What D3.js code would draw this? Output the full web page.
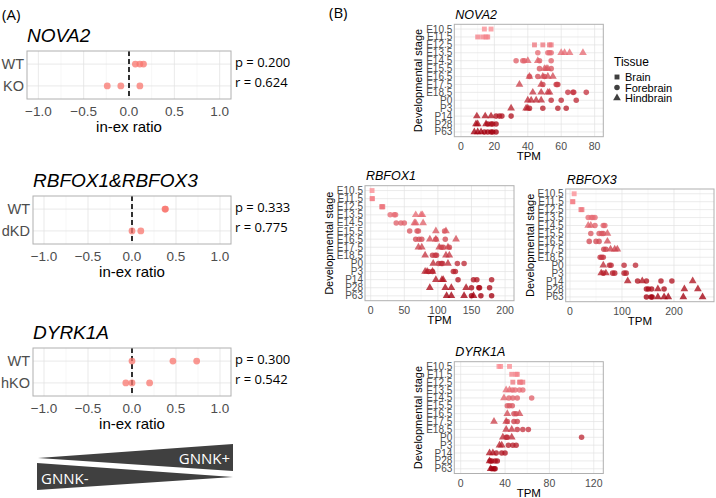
<!DOCTYPE html>
<html>
<head>
<meta charset="utf-8">
<script src="https://cdn.jsdelivr.net/npm/d3@7"></script>
<style>
body { margin: 0; background: #fff; }
text { font-family: "Liberation Sans", Arial, sans-serif; }
</style>
</head>
<body>
<div id="chart"></div>
<script>
// ---- panel A data ----
var ratioTicks = [-1, -0.5, 0, 0.5, 1];
var ratioGenes = ["NOVA2", "RBFOX1&RBFOX3", "DYRK1A"];
var ratioGroups = [["WT", "KO"], ["WT", "dKD"], ["WT", "hKO"]];
var ratioWT = [[0.07, 0.12, 0.16], [0.375, 0.38], [0.0, 0.465, 0.735]];
var ratioMut = [[-0.24, -0.09, 0.12], [0.0, 0.10], [-0.07, 0.0, 0.20]];
var ratioP = ["p = 0.200", "p = 0.333", "p = 0.300"];
var ratioR = ["r = 0.624", "r = 0.775", "r = 0.542"];

// ---- panel B data ----
var stages = ["E10.5", "E11.5", "E12.5", "E13.5", "E14.5", "E15.5", "E16.5", "E17.5", "E18.5",
              "P0", "P3", "P14", "P28", "P63"];
var tissues = ["Brain", "Forebrain", "Hindbrain"];

// [stage, tissue (B/F/H), TPM]
var nova2Pts = [
  ["E10.5","B",14],["E10.5","B",18],
  ["E11.5","B",10],["E11.5","B",13],["E11.5","B",15],["E11.5","B",16],
  ["E12.5","B",44],["E12.5","B",49],["E12.5","B",53],["E12.5","B",54],
  ["E13.5","F",46],["E13.5","F",52],["E13.5","F",53],["E13.5","F",54],["E13.5","H",60],["E13.5","H",62],["E13.5","H",65],["E13.5","H",73],
  ["E14.5","F",33],["E14.5","F",37],["E14.5","F",38],["E14.5","H",40],["E14.5","H",46],["E14.5","F",47],["E14.5","F",54],
  ["E15.5","F",47],["E15.5","H",50],["E15.5","H",51],["E15.5","H",52],["E15.5","F",54],
  ["E16.5","F",41],["E16.5","H",41],["E16.5","F",46],["E16.5","H",49],["E16.5","F",50],["E16.5","H",52],["E16.5","H",55],
  ["E17.5","H",35],["E17.5","H",48],["E17.5","F",49],["E17.5","F",57],["E17.5","F",58],["E17.5","F",57.5],
  ["E18.5","H",43],["E18.5","H",48],["E18.5","H",52],["E18.5","H",53],["E18.5","F",64],["E18.5","F",67],["E18.5","F",67.5],["E18.5","F",75],
  ["P0","H",40],["P0","H",42],["P0","H",45],["P0","H",48],["P0","F",54],["P0","F",60],["P0","F",69],
  ["P3","H",30],["P3","H",39],["P3","H",40],["P3","F",41],["P3","F",49],["P3","F",58],["P3","F",63],
  ["P14","H",9.5],["P14","H",14.5],["P14","H",18],["P14","F",21],["P14","F",23],["P14","F",24.5],["P14","F",30],
  ["P28","H",9],["P28","H",10],["P28","H",15],["P28","F",16],["P28","F",18],["P28","F",19],["P28","F",21],
  ["P63","H",8],["P63","H",10],["P63","H",12],["P63","F",14],["P63","F",16],["P63","F",18],["P63","F",19],["P63","F",21]
];
var rbfox1Pts = [
  ["E10.5","B",2],
  ["E11.5","B",2],["E11.5","B",2.5],
  ["E12.5","B",16.5],["E12.5","B",18],["E12.5","B",17],
  ["E13.5","F",29],["E13.5","F",35],["E13.5","F",37],["E13.5","H",67],["E13.5","H",75],["E13.5","H",77],
  ["E14.5","F",38],["E14.5","F",45],["E14.5","F",50],["E14.5","H",65],["E14.5","H",67],["E14.5","H",78],
  ["E15.5","F",58],["E15.5","F",69],["E15.5","F",71],["E15.5","H",97],["E15.5","F",110],["E15.5","H",112],
  ["E16.5","F",67],["E16.5","F",72],["E16.5","F",76],["E16.5","H",88],["E16.5","H",97],["E16.5","F",97],["E16.5","F",111],["E16.5","H",127],
  ["E17.5","H",71],["E17.5","H",76],["E17.5","H",102],["E17.5","F",105],["E17.5","F",108],["E17.5","H",115],["E17.5","F",117],
  ["E18.5","H",81],["E18.5","F",92],["E18.5","F",96],["E18.5","F",98],["E18.5","H",112],["E18.5","H",117],
  ["P0","H",93],["P0","F",101],["P0","F",105],["P0","F",107],["P0","H",115],["P0","F",129],["P0","F",139],
  ["P3","H",81],["P3","H",84],["P3","F",86],["P3","H",92],["P3","F",92],["P3","F",123],["P3","F",126],
  ["P14","H",97],["P14","H",106],["P14","H",108],["P14","F",130],["P14","F",153],["P14","F",158],["P14","F",180],
  ["P28","H",88],["P28","H",111],["P28","H",120],["P28","H",142],["P28","F",150],["P28","F",162],["P28","F",161],["P28","F",177],
  ["P63","H",113],["P63","H",120],["P63","H",139],["P63","H",153],["P63","F",150],["P63","F",164],["P63","F",180]
];
var rbfox3Pts = [
  ["E10.5","B",8],
  ["E11.5","B",5],["E11.5","B",5.5],
  ["E12.5","B",21],["E12.5","B",23],
  ["E13.5","F",35],["E13.5","F",41],["E13.5","F",44],["E13.5","F",48],
  ["E14.5","H",35],["E14.5","H",40],["E14.5","F",48],["E14.5","F",64],["E14.5","F",67],
  ["E15.5","F",40],["E15.5","F",56],["E15.5","F",61],["E15.5","F",64],["E15.5","H",72],
  ["E16.5","F",37],["E16.5","F",50],["E16.5","F",56],["E16.5","H",72],
  ["E17.5","F",65],["E17.5","F",69],["E17.5","H",78],["E17.5","H",86],["E17.5","H",91],
  ["E18.5","F",58],["E18.5","F",61],["E18.5","F",64],
  ["P0","H",64],["P0","F",76],["P0","F",79],["P0","F",104],["P0","F",126],
  ["P3","H",60],["P3","F",64],["P3","H",69],["P3","F",82],["P3","F",86],["P3","F",104],["P3","F",108],
  ["P14","H",111],["P14","F",130],["P14","H",139],["P14","F",147],["P14","F",175],["P14","F",196],["P14","H",236],
  ["P28","F",147],["P28","F",151],["P28","F",157],["P28","H",169],["P28","F",181],["P28","H",220],["P28","H",246],
  ["P63","F",147],["P63","F",156],["P63","F",158],["P63","H",169],["P63","H",181],["P63","H",189],["P63","H",218],["P63","H",255]
];
var dyrk1aPts = [
  ["E10.5","B",34.5],["E10.5","B",36],["E10.5","B",44],
  ["E11.5","B",46],["E11.5","B",50],["E11.5","B",51],
  ["E12.5","B",47],["E12.5","B",53],["E12.5","B",54],["E12.5","B",56],
  ["E13.5","H",41],["E13.5","H",44],["E13.5","F",46.5],["E13.5","F",49],["E13.5","F",53],["E13.5","F",56],
  ["E14.5","H",39],["E14.5","F",43.5],["E14.5","F",47],["E14.5","F",51],["E14.5","F",64],
  ["E15.5","F",42],["E15.5","F",44],["E15.5","F",46.5],
  ["E16.5","H",42],["E16.5","F",48],["E16.5","F",50],["E16.5","H",53],
  ["E17.5","H",30],["E17.5","H",41],["E17.5","F",42],["E17.5","F",48],["E17.5","F",51],
  ["E18.5","H",41],["E18.5","H",46],["E18.5","F",51],["E18.5","F",56],["E18.5","F",61],
  ["P0","H",38],["P0","F",41],["P0","F",42],["P0","H",46],["P0","F",109],
  ["P3","H",35],["P3","H",37],["P3","F",43],["P3","F",47],["P3","F",50],
  ["P14","H",26],["P14","H",29],["P14","F",32],["P14","F",37],["P14","F",40],
  ["P28","H",26],["P28","F",26.5],["P28","F",28],["P28","F",31],["P28","F",33],
  ["P63","H",27],["P63","F",28],["P63","F",30],["P63","F",31]
];
var nova2Ticks = [0, 20, 40, 60, 80];
var rbfox1Ticks = [0, 50, 100, 150, 200];
var rbfox3Ticks = [0, 100, 200];
var dyrk1aTicks = [0, 40, 80, 120];

var W = 716, H = 498;
var svg = d3.select("#chart").append("svg")
    .attr("width", W)
    .attr("height", H);

var gridMajor = "#e3e3e3", gridMinor = "#f1f1f1", frameCol = "#b0b0b0", axisText = "#4d4d4d";

// panel labels
svg.append("text").attr("x", 2).attr("y", 20).attr("font-size", 15)
    .style("font-family", "'Open Sans', sans-serif").text("(A)");
svg.append("text").attr("x", 329).attr("y", 18).attr("font-size", 15)
    .style("font-family", "'Open Sans', sans-serif").text("(B)");

// ---------- panel A ----------
var aTops = [51, 196, 348];
var aLefts = [27, 33, 33];
var aRight = 231;
var aH = 48;
var aMinor = d3.pairs(ratioTicks).map(p => (p[0] + p[1]) / 2);

ratioGenes.forEach((gene, i) => {
    var top = aTops[i];
    var g = svg.append("g");
    var ax = d3.scaleLinear().domain([-1.125, 1.125]).range([aLefts[i], aRight]);
    var ay = d3.scalePoint().domain(ratioGroups[i]).range([top, top + aH]).padding(0.6);

    g.selectAll(".mn").data(aMinor).enter().append("line")
        .attr("x1", d => ax(d)).attr("x2", d => ax(d))
        .attr("y1", top).attr("y2", top + aH)
        .attr("stroke", gridMinor).attr("stroke-width", 0.6);
    g.selectAll(".mj").data(ratioTicks).enter().append("line")
        .attr("x1", d => ax(d)).attr("x2", d => ax(d))
        .attr("y1", top).attr("y2", top + aH)
        .attr("stroke", gridMajor).attr("stroke-width", 0.8);
    g.selectAll(".hz").data(ratioGroups[i]).enter().append("line")
        .attr("x1", ax.range()[0]).attr("x2", ax.range()[1])
        .attr("y1", d => ay(d)).attr("y2", d => ay(d))
        .attr("stroke", gridMajor).attr("stroke-width", 0.8);

    // dashed zero line
    g.append("line")
        .attr("x1", ax(0)).attr("x2", ax(0))
        .attr("y1", top).attr("y2", top + aH)
        .attr("stroke", "#000").attr("stroke-width", 1.6)
        .attr("stroke-dasharray", "5,3");

    var pts = ratioWT[i].map(v => ({grp: ratioGroups[i][0], v: v}))
        .concat(ratioMut[i].map(v => ({grp: ratioGroups[i][1], v: v})));
    g.selectAll("circle").data(pts).enter().append("circle")
        .attr("cx", d => ax(d.v))
        .attr("cy", d => ay(d.grp))
        .attr("r", 3.4)
        .attr("fill", "#f8766d")
        .attr("opacity", 0.75);

    g.append("rect")
        .attr("x", ax.range()[0]).attr("y", top)
        .attr("width", ax.range()[1] - ax.range()[0]).attr("height", aH)
        .attr("fill", "none").attr("stroke", frameCol).attr("stroke-width", 1);

    // axis text
    g.selectAll(".tk").data(ratioTicks).enter().append("text")
        .attr("x", d => ax(d)).attr("y", top + aH + 16.5)
        .attr("text-anchor", "middle").attr("font-size", 13.5).attr("fill", axisText)
        .text(d => d3.format(".1f")(d));
    g.append("text")
        .attr("x", ax(0)).attr("y", top + aH + 32.5)
        .attr("text-anchor", "middle").attr("font-size", 15).attr("fill", "#000")
        .text("in-ex ratio");
    g.selectAll(".gl").data(ratioGroups[i]).enter().append("text")
        .attr("x", aLefts[i] - 3).attr("y", d => ay(d) + 5)
        .attr("text-anchor", "end").attr("font-size", 14.5).attr("fill", axisText)
        .text(d => d);

    g.append("text")
        .attr("x", aLefts[i]).attr("y", top - 9)
        .attr("font-size", 19).attr("font-style", "italic")
        .text(gene);

    g.append("text").attr("x", 235).attr("y", top + 16)
        .attr("font-size", 13).style("font-family", "'Open Sans', sans-serif").text(ratioP[i]);
    g.append("text").attr("x", 235).attr("y", top + 36)
        .attr("font-size", 13).style("font-family", "'Open Sans', sans-serif").text(ratioR[i]);
});

// GNNK wedges
var wedge = d3.line();
svg.append("path")
    .attr("d", wedge([[38, 458], [233, 444], [233, 471]]) + "Z")
    .attr("fill", "#404040");
svg.append("path")
    .attr("d", wedge([[37, 463], [37, 490], [233, 477]]) + "Z")
    .attr("fill", "#404040");
svg.append("text").attr("x", 230).attr("y", 464).attr("text-anchor", "end")
    .attr("font-size", 15).attr("fill", "#fff")
    .style("font-family", "'Open Sans', sans-serif").text("GNNK+");
svg.append("text").attr("x", 41).attr("y", 484)
    .attr("font-size", 15).attr("fill", "#fff")
    .style("font-family", "'Open Sans', sans-serif").text("GNNK-");

// ---------- panel B ----------
var stageColor = d3.scaleLinear()
    .domain([0, stages.length - 1])
    .range(["#fb8d93", "#a3000f"])
    .interpolate(d3.interpolateRgb);
var shapeOf = {B: d3.symbolSquare, F: d3.symbolCircle, H: d3.symbolTriangle};
var sizeOf = {B: 24, F: 24, H: 26};

var panels = [
    {gene: "NOVA2", pts: nova2Pts, ticks: nova2Ticks, dom: [-4, 85.2], x0: 454.3, x1: 603.3, y0: 24.3, y1: 136.7},
    {gene: "RBFOX1", pts: rbfox1Pts, ticks: rbfox1Ticks, dom: [-8.5, 213.3], x0: 365, x1: 514, y0: 185.7, y1: 300.7},
    {gene: "RBFOX3", pts: rbfox3Pts, ticks: rbfox3Ticks, dom: [-8.3, 277], x0: 565.7, x1: 714, y0: 189, y1: 301.7},
    {gene: "DYRK1A", pts: dyrk1aPts, ticks: dyrk1aTicks, dom: [-5.8, 128.6], x0: 454.3, x1: 603.3, y0: 361.7, y1: 473.5}
];

panels.forEach(p => {
    var g = svg.append("g");
    var x = d3.scaleLinear().domain(p.dom).range([p.x0, p.x1]);
    var y = d3.scalePoint().domain(stages).range([p.y0, p.y1]).padding(0.6);
    var step = p.ticks[1] - p.ticks[0];
    var minors = p.ticks.map(t => t + step / 2).concat([p.ticks[0] - step / 2])
        .filter(t => t > p.dom[0] && t < p.dom[1]);

    g.selectAll(".mn").data(minors).enter().append("line")
        .attr("x1", d => x(d)).attr("x2", d => x(d))
        .attr("y1", p.y0).attr("y2", p.y1)
        .attr("stroke", gridMinor).attr("stroke-width", 0.5);
    g.selectAll(".mj").data(p.ticks).enter().append("line")
        .attr("x1", d => x(d)).attr("x2", d => x(d))
        .attr("y1", p.y0).attr("y2", p.y1)
        .attr("stroke", gridMajor).attr("stroke-width", 0.7);
    g.selectAll(".hz").data(stages).enter().append("line")
        .attr("x1", p.x0).attr("x2", p.x1)
        .attr("y1", d => y(d)).attr("y2", d => y(d))
        .attr("stroke", gridMajor).attr("stroke-width", 0.7);

    g.selectAll("path.pt").data(p.pts).enter().append("path")
        .attr("class", "pt")
        .attr("transform", d => "translate(" + x(d[2]) + "," + y(d[0]) + ")")
        .attr("d", d => d3.symbol().type(shapeOf[d[1]]).size(sizeOf[d[1]])())
        .attr("fill", d => stageColor(stages.indexOf(d[0])))
        .attr("opacity", 0.78);

    g.append("rect")
        .attr("x", p.x0).attr("y", p.y0)
        .attr("width", p.x1 - p.x0).attr("height", p.y1 - p.y0)
        .attr("fill", "none").attr("stroke", frameCol).attr("stroke-width", 1);

    g.selectAll(".yl").data(stages).enter().append("text")
        .attr("x", p.x0 - 2).attr("y", d => y(d) + 3.5)
        .attr("text-anchor", "end").attr("font-size", 10).attr("fill", axisText)
        .text(d => d);
    g.selectAll(".xl").data(p.ticks).enter().append("text")
        .attr("x", d => x(d)).attr("y", p.y1 + 13)
        .attr("text-anchor", "middle").attr("font-size", 10.5).attr("fill", axisText)
        .text(d => d);
    g.append("text")
        .attr("x", (p.x0 + p.x1) / 2).attr("y", p.y1 + 23)
        .attr("text-anchor", "middle").attr("font-size", 11.5)
        .text("TPM");
    g.append("text")
        .attr("transform", "translate(" + (p.x0 - 32) + "," + ((p.y0 + p.y1) / 2) + ") rotate(-90)")
        .attr("text-anchor", "middle").attr("font-size", 11)
        .text("Developmental stage");
    g.append("text")
        .attr("x", p.x0 + 1).attr("y", p.y0 - 5.5)
        .attr("font-size", 12.5).attr("font-style", "italic")
        .text(p.gene);
});

// legend
var leg = svg.append("g");
leg.append("text").attr("x", 614).attr("y", 66).attr("font-size", 12).text("Tissue");
var legCodes = ["B", "F", "H"];
tissues.forEach((t, i) => {
    leg.append("path")
        .attr("transform", "translate(617," + (77 + i * 10.5) + ")")
        .attr("d", d3.symbol().type(shapeOf[legCodes[i]]).size(sizeOf[legCodes[i]])())
        .attr("fill", "#404040");
    leg.append("text").attr("x", 625).attr("y", 81 + i * 10.5)
        .attr("font-size", 11).text(t);
});
</script>
</body>
</html>
